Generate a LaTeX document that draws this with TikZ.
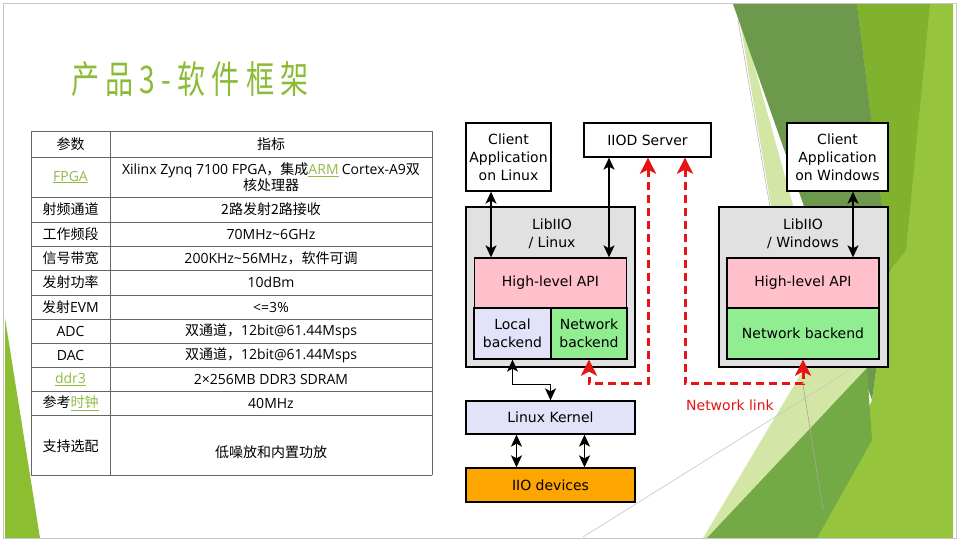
\documentclass[tikz,border=0pt]{standalone}
\usepackage{fontspec}
\usepackage{graphicx}
\setmainfont{Noto Sans CJK SC}
\newfontfamily\enfont{Open Sans}
\newfontfamily\dvfont{DejaVu Sans}
\newfontfamily\titlefont[LetterSpace=22]{Noto Sans CJK SC}
\usepackage{xcolor}
\usetikzlibrary{arrows.meta,calc}

\definecolor{titlegreen}{RGB}{140,188,55}
\definecolor{linkgreen}{RGB}{146,187,70}
\definecolor{linkred}{RGB}{230,20,20}
\definecolor{libgrey}{RGB}{225,225,225}
\definecolor{apipink}{RGB}{255,192,203}
\definecolor{lavend}{RGB}{226,226,248}
\definecolor{netgreen}{RGB}{144,238,144}
\definecolor{devorange}{RGB}{255,165,0}
\definecolor{bgdark}{RGB}{108,153,75}
\definecolor{bgolive}{RGB}{128,178,45}
\definecolor{bgyellow}{RGB}{150,196,60}
\definecolor{bgpale}{RGB}{212,230,165}
\definecolor{bgmid}{RGB}{116,170,70}
\definecolor{bgleft}{RGB}{140,190,50}

\newcommand{\en}[1]{{\enfont #1}}
\newcommand{\lnk}[1]{\textcolor{linkgreen}{\underline{#1}}}
\newcommand{\tabfont}{\fontsize{14}{16}\selectfont}
\newcommand{\diagfont}{\dvfont\fontsize{14}{18}\selectfont}

\begin{document}
\begin{tikzpicture}[x=1pt,y=-1pt,
  blk/.style={draw,line width=1.3pt,inner sep=0pt,align=center,font=\diagfont},
  dbl/.style={{Stealth[length=12pt,width=11pt,inset=3pt]}-{Stealth[length=12pt,width=11pt,inset=3pt]},line width=1.4pt},
  netlink/.style={{Stealth[length=16pt,width=16pt,inset=4pt]}-{Stealth[length=16pt,width=16pt,inset=4pt]},draw=linkred,line width=3pt,dash pattern=on 8pt off 5pt},
  cell/.style={font=\tabfont,inner sep=0pt,align=center},
  grid/.style={draw=black!60,line width=0.8pt}]
    \fill[white] (0,0) rectangle (959,541);
    \useasboundingbox (0,0) rectangle (959,541);
    \begin{scope}
        \clip (4,4) rectangle (953,538);
        \fill[bgyellow] (857,4) -- (953,4) -- (953,538) -- (815,538) -- (872,400) -- (890,270) -- cycle;
        \fill[bgolive] (857,4) -- (930,4) -- (906,250) -- (890,270) -- cycle;
        \fill[bgpale] (737,4) -- (800,230) -- (775,230) -- cycle;
        \fill[bgdark] (733,4) -- (857,4) -- (890,270) -- (872,400) -- cycle;
        \fill[bgpale] (703,538) -- (845,300) -- (880,320) -- (867,368) -- (720,538) -- cycle;
        \fill[bgmid] (707,538) -- (867,368) -- (872,440) -- (817,538) -- cycle;
        \fill[bgleft] (5,318) -- (5,538) -- (40,538) -- cycle;
        \draw[gray!45,line width=0.6pt] (583,537) -- (850,370);
        \draw[gray!55,line width=0.6pt] (738,20) -- (770,207);
        \draw[black!35,line width=0.6pt] (803,385) -- (823,510);
    \end{scope}
    \draw[gray!45,line width=0.8pt] (3.5,3.5) rectangle (956.5,538.5);

    \node[anchor=west,inner sep=0pt,text=titlegreen] (title) at (71,79)
        {\scalebox{0.74}[1]{\titlefont\fontsize{38}{44}\selectfont 产品3-软件框架}};

    \foreach \y in {131,157,197,222,246,270,295,319,343,367,391,415,475}
        \draw[grid] (31,\y) -- (432,\y);
    \foreach \x in {31,110,432}
        \draw[grid] (\x,131) -- (\x,475);
    \foreach \ya/\yb/\k/\v [count=\i] in {
        144/144/参数/指标,
        177/177/{\lnk{\en{FPGA}}}/{\en{Xilinx Zynq 7100 FPGA}，集成\lnk{\en{ARM}} \en{Cortex-A9}双\\核处理器},
        209.5/209.5/射频通道/2路发射2路接收,
        234/234/工作频段/{\en{70MHz\textasciitilde6GHz}},
        258/258/信号带宽/{\en{200KHz\textasciitilde56MHz}，软件可调},
        282/282/发射功率/{\en{10dBm}},
        307/307/{发射\en{EVM}}/{\en{<=3\%}},
        331/331/{\en{ADC}}/{双通道，\en{12bit@61.44Msps}},
        355/355/{\en{DAC}}/{双通道，\en{12bit@61.44Msps}},
        379/379/{\lnk{\en{ddr3}}}/{\en{2×256MB DDR3 SDRAM}},
        403/403/{参考\lnk{时钟}}/{\en{40MHz}},
        446/452/支持选配/低噪放和内置功放}
    {
        \node[cell] (k\i) at (70.5,\ya) {\k};
        \node[cell] (v\i) at (271,\yb) {\v};
    }

    \node[blk,fill=libgrey,minimum width=169,minimum height=160] (libLin) at (550.5,287) {};
    \node[font=\diagfont,align=center,inner sep=0pt] (libLinTxt) at (552,234) {LibIIO\\/ Linux};
    \node[blk,fill=apipink,minimum width=152,minimum height=50] (apiLin) at (550.5,283) {High-level API};
    \node[blk,fill=lavend,minimum width=77,minimum height=51] (locLin) at (512.5,333.5) {Local\\backend};
    \node[blk,fill=netgreen,minimum width=76,minimum height=51] (netLin) at (589,333.5) {Network\\backend};
    \node[blk,fill=white,minimum width=85,minimum height=68] (cliLin) at (508.5,157) {Client\\Application\\on Linux};
    \node[blk,fill=white,minimum width=127,minimum height=34] (iiod) at (647.5,140) {IIOD Server};
    \node[blk,fill=lavend,minimum width=169,minimum height=33] (kernel) at (550.5,417.5) {Linux Kernel};
    \node[blk,fill=devorange,minimum width=169,minimum height=34] (iiodev) at (550.5,485) {IIO devices};

    \node[blk,fill=libgrey,minimum width=169,minimum height=160] (libWin) at (803.5,287) {};
    \node[font=\diagfont,align=center,inner sep=0pt] (libWinTxt) at (803,234) {LibIIO\\/ Windows};
    \node[blk,fill=apipink,minimum width=152,minimum height=50] (apiWin) at (803,283) {High-level API};
    \node[blk,fill=netgreen,minimum width=152,minimum height=51] (netWin) at (803,333.5) {Network backend};
    \node[blk,fill=white,minimum width=101,minimum height=68] (cliWin) at (837.5,157) {Client\\Application\\on Windows};
    \node[text=linkred,font=\diagfont,inner sep=0pt] (netTxt) at (730,405) {Network link};

    \draw[dbl] ([xshift=-17.5pt]cliLin.south) -- ([xshift=-17.5pt]cliLin.south |- apiLin.north);
    \draw[dbl] ([xshift=-38.5pt]iiod.south) -- ([xshift=-38.5pt]iiod.south |- apiLin.north);
    \draw[dbl] ([xshift=15.5pt]cliWin.south) -- ([xshift=15.5pt]cliWin.south |- apiWin.north);
    \draw[dbl] (locLin.south) -- ++(0,25) -| (kernel.north);
    \draw[dbl] ([xshift=-34pt]kernel.south) -- ([xshift=-34pt]iiodev.north);
    \draw[dbl] ([xshift=34pt]kernel.south) -- ([xshift=34pt]iiodev.north);
    \draw[netlink] ([xshift=0.5pt]iiod.south) -- ++(0,226) -| (netLin.south);
    \draw[netlink] ([xshift=37.5pt]iiod.south) -- ++(0,226) -| (netWin.south);
\end{tikzpicture}
\end{document}
